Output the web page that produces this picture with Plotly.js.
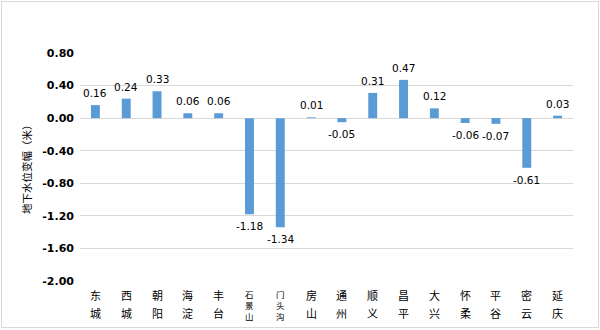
<!DOCTYPE html>
<html>
<head>
<meta charset="utf-8">
<script src="https://cdn.plot.ly/plotly-3.0.1.min.js"></script>
<style>
  html, body { margin: 0; padding: 0; background: #fff; }
  #chart { position: absolute; left: 0; top: 0; width: 600px; height: 330px; }
  #frame { position: absolute; left: 1px; top: 1px; width: 598px; height: 327px;
           border: 1px solid #d9d9d9; box-sizing: border-box; pointer-events: none; }
</style>
</head>
<body>
<div id="chart"></div>
<div id="frame"></div>
<script>
// Data
const districts = ["东城", "西城", "朝阳", "海淀", "丰台", "石景山", "门头沟", "房山",
                   "通州", "顺义", "昌平", "大兴", "怀柔", "平谷", "密云", "延庆"];
const levelChange = [0.16, 0.24, 0.33, 0.06, 0.06, -1.18, -1.34, 0.01,
                     -0.05, 0.31, 0.47, 0.12, -0.06, -0.07, -0.61, 0.03];
const yTickVals = [0.8, 0.4, 0, -0.4, -0.8, -1.2, -1.6, -2.0];
const yTickText = ["0.80", "0.40", "0.00", "-0.40", "-0.80", "-1.20", "-1.60", "-2.00"];
const yTitle = "地下水位变幅（米）";

const cjk = "Noto Sans CJK SC";

const annotations = [];

// Vertical stacked category labels
districts.forEach(function (name) {
  const chars = Array.from(name);
  if (chars.length <= 2) {
    const offsets = [14, 32];
    chars.forEach(function (ch, k) {
      annotations.push({
        x: name, xref: "x", y: 0, yref: "paper",
        yanchor: "middle", xanchor: "center", yshift: -offsets[k],
        text: ch, showarrow: false,
        font: { family: cjk, size: 11, color: "#000" }
      });
    });
  } else {
    annotations.push({
      x: name, xref: "x", y: 0, yref: "paper",
      yanchor: "middle", xanchor: "center", yshift: -23.5,
      text: chars.join("<br>"), showarrow: false,
      font: { family: cjk, size: 8.5, color: "#000" }
    });
  }
});

// Value labels
districts.forEach(function (name, i) {
  const v = levelChange[i];
  annotations.push({
    x: name, xref: "x", y: v, yref: "y",
    yanchor: "middle", xanchor: "center",
    yshift: v >= 0 ? 12 : -12,
    text: v.toFixed(2), showarrow: false,
    font: { family: "DejaVu Sans", size: 10.5, color: "#000" }
  });
});

// Y-axis title
annotations.push({
  x: 0, xref: "paper", y: 0.5, yref: "paper",
  xanchor: "center", yanchor: "middle", xshift: -54,
  textangle: -90, text: yTitle, showarrow: false,
  font: { family: cjk, size: 10.5, color: "#000" }
});

const trace = {
  type: "bar",
  x: districts,
  y: levelChange,
  marker: { color: "#5B9BD5" },
  cliponaxis: false,
  hoverinfo: "x+y"
};

const layout = {
  width: 600, height: 330,
  margin: { l: 80, r: 27, t: 53, b: 49, pad: 0 },
  paper_bgcolor: "#fff", plot_bgcolor: "#fff",
  showlegend: false,
  bargap: 0.71,
  xaxis: {
    type: "category",
    showticklabels: false, ticks: "",
    showgrid: false, zeroline: false, showline: false,
    fixedrange: true
  },
  yaxis: {
    range: [-2.0, 0.8],
    tickvals: yTickVals, ticktext: yTickText,
    tickfont: { family: "DejaVu Sans", size: 11, color: "#000", weight: "bold" },
    ticklabelstandoff: 5,
    showgrid: true, gridcolor: "#d9d9d9", gridwidth: 1,
    zeroline: false, showline: false, ticks: "",
    automargin: false
  },
  annotations: annotations
};

Plotly.newPlot("chart", [trace], layout, { displayModeBar: false, staticPlot: true });
</script>
</body>
</html>
